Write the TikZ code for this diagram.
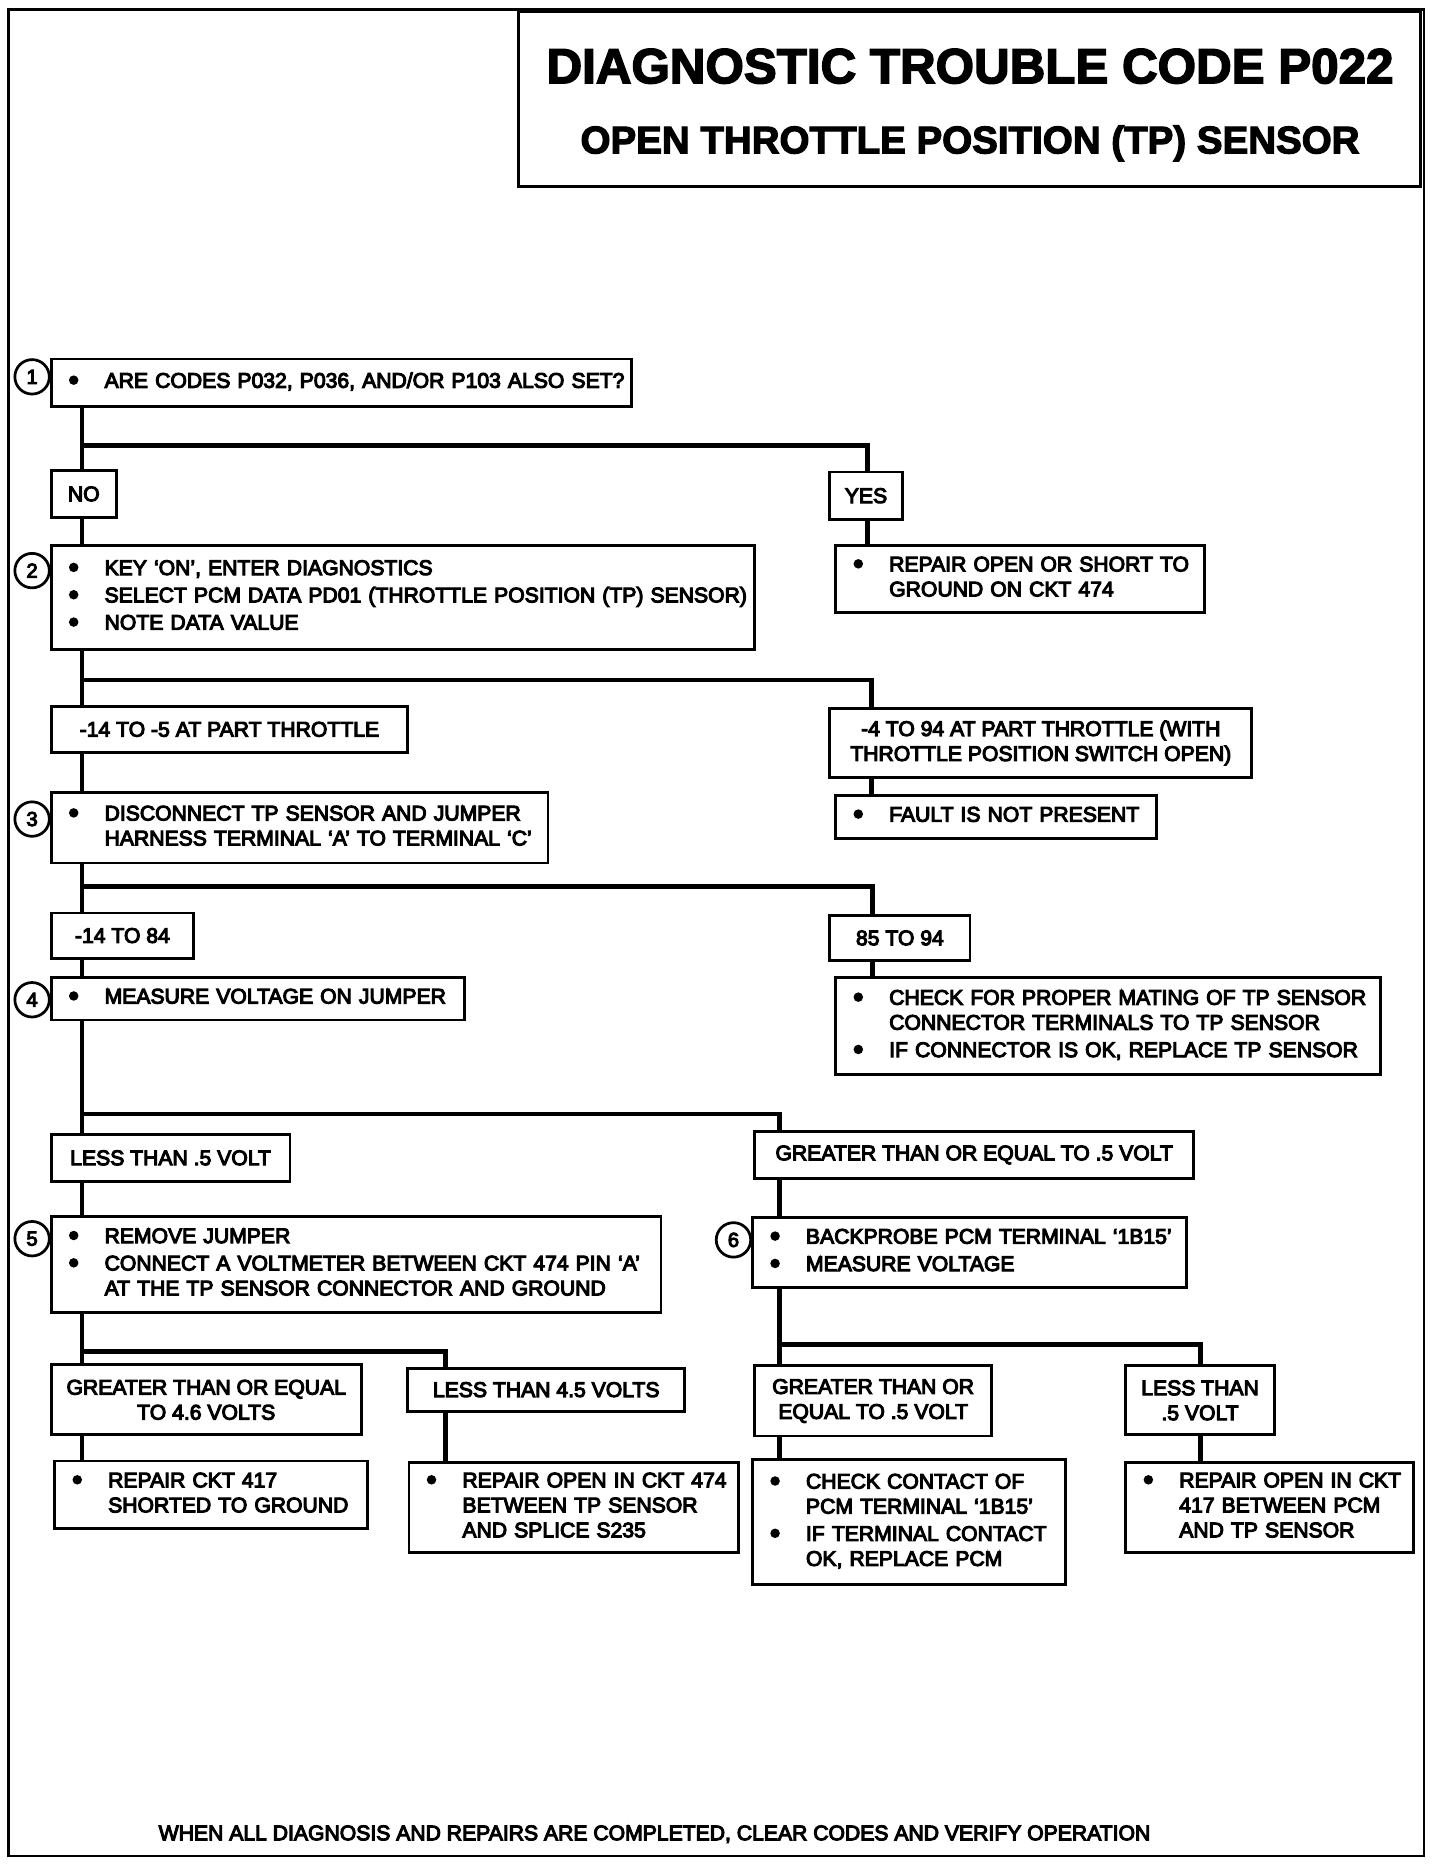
\documentclass[tikz,border=0pt]{standalone}
\usepackage{fontspec}
\usepackage{array}
\setmainfont{Liberation Sans}
\newfontfamily\bodyff{Liberation Sans}[FakeBold=5]
\newfontfamily\headff{Liberation Sans Bold}[FakeBold=3]
\newcommand\body{\bodyff\fontsize{17.8}{21}\selectfont}
\newcommand\titlef{\headff\fontsize{41.5}{48}\selectfont}
\newcommand\subf{\headff\fontsize{32.4}{38}\selectfont}
\newcommand\numf{\bodyff\fontsize{17}{20}\selectfont}
\newenvironment{blist}{\noindent\begin{tabular}{@{\hspace{3pt}}p{30pt}@{}l@{}}}{\end{tabular}}
\newcommand\bu{\tikz[x=1pt,y=1pt,baseline=-6.4pt]\fill (4,0) circle[radius=4pt];}
\begin{document}
\begin{tikzpicture}[x=1pt,y=-1pt,
  box/.style={draw, line width=2.4pt, fill=white, rectangle, inner sep=0pt, outer sep=0pt, anchor=north west, font=\body},
  lbl/.style={box, align=center},
  conn/.style={line width=4pt},
  num/.style={draw, circle, line width=2.3pt, minimum size=29pt, inner sep=0pt, font=\numf},
]
\useasboundingbox (0,0) rectangle (1211,1568);
\fill[white] (0,0) rectangle (1211,1568);
\draw[line width=2pt] (7,8) rectangle (1198,1561);

% title
\node[box, minimum width=759pt, minimum height=147pt] (tb) at (436,10) {};
\node[font=\titlef, anchor=base] (t1) at (816,70) {DIAGNOSTIC TROUBLE CODE P022};
\node[font=\subf, anchor=base] (t2) at (816,129) {OPEN THROTTLE POSITION (TP) SENSOR};

% coordinates for connector columns
\coordinate (tx) at (69,0);
\coordinate (bx1) at (730,0);
\coordinate (bx2) at (733,0);
\coordinate (bx3) at (734,0);
\coordinate (bx4) at (656,0);
\coordinate (bx5) at (375,0);
\coordinate (bx6) at (1010,0);
\coordinate (j1) at (69,375);
\coordinate (j2) at (69,572);
\coordinate (j3) at (69,746);
\coordinate (j4) at (69,937);
\coordinate (j5) at (69,1137);
\coordinate (j6) at (656,1131);

% step 1
\node[box, minimum width=488pt, minimum height=40pt, text width=464pt] (b1) at (43,302)
  {\begin{blist}\bu & ARE CODES P032, P036, AND/OR P103 ALSO SET?\end{blist}};
\node[num] (c1) at (27,317) {1};
\node[lbl, minimum width=55pt, minimum height=39pt] (no) at (43,396) {NO};
\node[lbl, minimum width=61pt, minimum height=40pt] (yes) at (698,397) {YES};

% step 2
\node[box, minimum width=592pt, minimum height=87pt, text width=568pt] (b2) at (43,459)
  {\begin{blist}\bu & KEY ‘ON’, ENTER DIAGNOSTICS\\[2pt]
  \bu & SELECT PCM DATA PD01 (THROTTLE POSITION (TP) SENSOR)\\[2pt]
  \bu & NOTE DATA VALUE\end{blist}};
\node[num] (c2) at (27,480) {2};
\node[box, minimum width=310pt, minimum height=56pt, text width=286pt] (r1) at (703,459)
  {\begin{blist}\bu & REPAIR OPEN OR SHORT TO\\ & GROUND ON CKT 474\end{blist}};

\node[lbl, minimum width=300pt, minimum height=39pt] (l2a) at (43,594) {-14 TO -5 AT PART THROTTLE};
\node[lbl, minimum width=355pt, minimum height=58pt] (l2b) at (698,596) {-4 TO 94 AT PART THROTTLE (WITH\\THROTTLE POSITION SWITCH OPEN)};
\node[box, minimum width=270pt, minimum height=36pt, text width=246pt] (r2) at (703,669)
  {\begin{blist}\bu & FAULT IS NOT PRESENT\end{blist}};

% step 3
\node[box, minimum width=418pt, minimum height=59pt, text width=394pt] (b3) at (43,667)
  {\begin{blist}\bu & DISCONNECT TP SENSOR AND JUMPER\\ & HARNESS TERMINAL ‘A’ TO TERMINAL ‘C’\end{blist}};
\node[num] (c3) at (27,689) {3};
\node[lbl, minimum width=120pt, minimum height=38pt] (l3a) at (43,768) {-14 TO 84};
\node[lbl, minimum width=118pt, minimum height=38pt] (l3b) at (698,770) {85 TO 94};

% step 4
\node[box, minimum width=348pt, minimum height=36pt, text width=324pt] (b4) at (43,822)
  {\begin{blist}\bu & MEASURE VOLTAGE ON JUMPER\end{blist}};
\node[num] (c4) at (27,841) {4};
\node[box, minimum width=458pt, minimum height=82pt, text width=434pt] (r3) at (703,822)
  {\begin{blist}\bu & CHECK FOR PROPER MATING OF TP SENSOR\\ & CONNECTOR TERMINALS TO TP SENSOR\\[2pt]
  \bu & IF CONNECTOR IS OK, REPLACE TP SENSOR\end{blist}};

\node[lbl, minimum width=201pt, minimum height=40pt] (l4a) at (43,954) {LESS THAN .5 VOLT};
\node[lbl, minimum width=369pt, minimum height=39pt] (l4b) at (635,952) {GREATER THAN OR EQUAL TO .5 VOLT};

% step 5
\node[box, minimum width=513pt, minimum height=81pt, text width=489pt] (b5) at (43,1023)
  {\begin{blist}\bu & REMOVE JUMPER\\[2pt]
  \bu & CONNECT A VOLTMETER BETWEEN CKT 474 PIN ‘A’\\ & AT THE TP SENSOR CONNECTOR AND GROUND\end{blist}};
\node[num] (c5) at (27,1042) {5};

% step 6
\node[box, minimum width=365pt, minimum height=59pt, text width=341pt] (b6) at (633,1024)
  {\begin{blist}\bu & BACKPROBE PCM TERMINAL ‘1B15’\\[2pt]
  \bu & MEASURE VOLTAGE\end{blist}};
\node[num] (c6) at (617,1043) {6};

\node[lbl, minimum width=261pt, minimum height=59pt] (l5a) at (43,1148) {GREATER THAN OR EQUAL\\TO 4.6 VOLTS};
\node[lbl, minimum width=233pt, minimum height=36pt] (l5b) at (343,1151) {LESS THAN 4.5 VOLTS};
\node[box, minimum width=263pt, minimum height=57pt, text width=239pt] (r5a) at (46,1229)
  {\begin{blist}\bu & REPAIR CKT 417\\ & SHORTED TO GROUND\end{blist}};
\node[box, minimum width=277pt, minimum height=76pt, text width=253pt] (r5b) at (344,1230)
  {\begin{blist}\bu & REPAIR OPEN IN CKT 474\\ & BETWEEN TP SENSOR\\ & AND SPLICE S235\end{blist}};

\node[lbl, minimum width=199pt, minimum height=59pt] (l6a) at (635,1149) {GREATER THAN OR\\EQUAL TO .5 VOLT};
\node[lbl, minimum width=125pt, minimum height=58pt] (l6b) at (947,1149) {LESS THAN\\.5 VOLT};
\node[box, minimum width=263pt, minimum height=105pt, text width=239pt] (r6a) at (633,1228)
  {\begin{blist}\bu & CHECK CONTACT OF\\ & PCM TERMINAL ‘1B15’\\[2pt]
  \bu & IF TERMINAL CONTACT\\ & OK, REPLACE PCM\end{blist}};
\node[box, minimum width=242pt, minimum height=76pt, text width=218pt] (r6b) at (947,1230)
  {\begin{blist}\bu & REPAIR OPEN IN CKT\\ & 417 BETWEEN PCM\\ & AND TP SENSOR\end{blist}};

\node[font=\body, anchor=base west] (foot) at (130,1548) {WHEN ALL DIAGNOSIS AND REPAIRS ARE COMPLETED, CLEAR CODES AND VERIFY OPERATION};

% connectors: trunk
\draw[conn] (b1.south -| tx) -- (no.north -| tx);
\draw[conn] (no.south -| tx) -- (b2.north -| tx);
\draw[conn] (b2.south -| tx) -- (l2a.north -| tx);
\draw[conn] (l2a.south -| tx) -- (b3.north -| tx);
\draw[conn] (b3.south -| tx) -- (l3a.north -| tx);
\draw[conn] (l3a.south -| tx) -- (b4.north -| tx);
\draw[conn] (b4.south -| tx) -- (l4a.north -| tx);
\draw[conn] (l4a.south -| tx) -- (b5.north -| tx);
\draw[conn] (b5.south -| tx) -- (l5a.north -| tx);
\draw[conn] (l5a.south -| tx) -- (r5a.north -| tx);
% branches
\draw[conn] (j1) -| (yes.north -| bx1);
\draw[conn] (yes.south -| bx1) -- (r1.north -| bx1);
\draw[conn] (j2) -| (l2b.north -| bx2);
\draw[conn] (l2b.south -| bx2) -- (r2.north -| bx2);
\draw[conn] (j3) -| (l3b.north -| bx3);
\draw[conn] (l3b.south -| bx3) -- (r3.north -| bx3);
\draw[conn] (j4) -| (l4b.north -| bx4);
\draw[conn] (l4b.south -| bx4) -- (b6.north -| bx4);
\draw[conn] (b6.south -| bx4) -- (l6a.north -| bx4);
\draw[conn] (l6a.south -| bx4) -- (r6a.north -| bx4);
\draw[conn] (j5) -| (l5b.north -| bx5);
\draw[conn] (l5b.south -| bx5) -- (r5b.north -| bx5);
\draw[conn] (j6) -| (l6b.north -| bx6);
\draw[conn] (l6b.south -| bx6) -- (r6b.north -| bx6);
\end{tikzpicture}
\end{document}
